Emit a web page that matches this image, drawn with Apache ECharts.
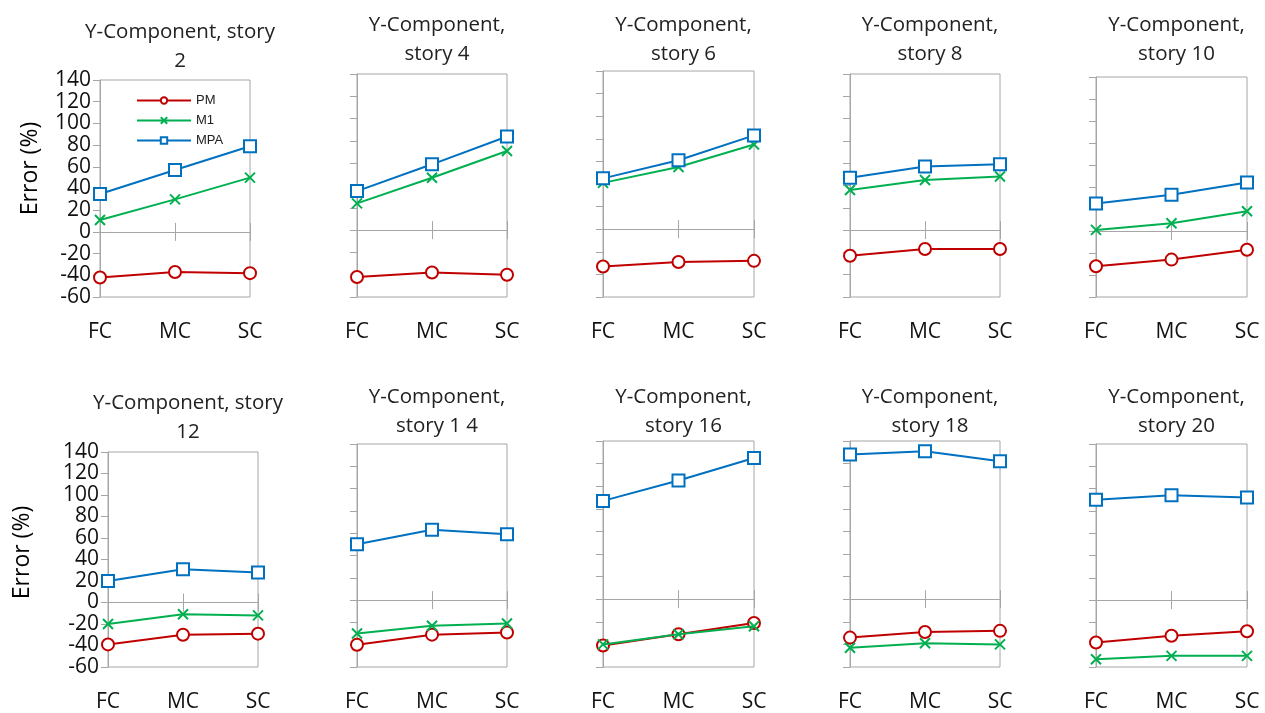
<!DOCTYPE html>
<html>
<head>
<meta charset="utf-8">
<script src="https://cdn.jsdelivr.net/npm/echarts@6/dist/echarts.min.js"></script>
<style>
html,body{margin:0;padding:0;background:#fff;}
#chart{width:1265px;height:713px;}
</style>
</head>
<body>
<div id="chart"></div>
<script>
// ---- data ----
var categories = ['FC', 'MC', 'SC'];
var panelTitles = [
  'Y-Component, story\n2', 'Y-Component,\nstory 4', 'Y-Component,\nstory 6', 'Y-Component,\nstory 8', 'Y-Component,\nstory 10',
  'Y-Component, story\n12', 'Y-Component,\nstory 1 4', 'Y-Component,\nstory 16', 'Y-Component,\nstory 18', 'Y-Component,\nstory 20'
];
var yTickMin = -60, yTickMax = 140, yTickStep = 20;
var seriesNames = ['PM', 'M1', 'MPA'];
var PM = [
  [-42, -37, -38], [-42, -38, -40], [-33, -29, -28], [-23, -17, -17], [-32, -26, -17],
  [-39, -30, -29], [-40, -31, -29], [-41, -31, -21], [-34, -29, -28], [-38, -32, -28]
];
var M1 = [
  [11, 30, 50], [24, 47, 71], [41, 55, 75], [36, 45, 48], [1, 7, 18],
  [-20, -11, -12], [-30, -23, -21], [-40, -31, -24], [-43, -39, -40], [-53, -50, -50]
];
var MPA = [
  [35, 57, 79], [35, 59, 84], [45, 61, 83], [47, 57, 59], [25, 33, 44],
  [20, 31, 28], [50, 63, 59], [87, 105, 125], [128, 131, 122], [90, 94, 92]
];

// ---- layout / style ----
var grids = [
  {left: 100, top: 80, width: 150, height: 217},
  {left: 357, top: 74, width: 150, height: 223},
  {left: 603, top: 71, width: 151, height: 226},
  {left: 850, top: 74, width: 150, height: 223},
  {left: 1096, top: 77, width: 151, height: 220},
  {left: 108, top: 452, width: 150, height: 217},
  {left: 357, top: 444, width: 150, height: 225},
  {left: 603, top: 441, width: 151, height: 228},
  {left: 850, top: 441, width: 150, height: 228},
  {left: 1096, top: 444, width: 151, height: 225}
];
var titleTops = [13, 6, 6, 6, 6, 384, 378, 378, 378, 378];
var FONT = '"Open Sans", Lato, sans-serif';
var AXIS_GRAY = '#a6a6a6';
var colors = {PM: '#C00000', M1: '#00B050', MPA: '#0070C0'};
var symbols = {PM: 'emptyCircle', M1: 'path://M0,0L10,10M10,0L0,10', MPA: 'emptyRect'};
var symSize = {PM: 12, M1: 10, MPA: 12};
var dataByName = {PM: PM, M1: M1, MPA: MPA};

var option = {
  backgroundColor: '#fff',
  animation: false,
  title: [], grid: [], xAxis: [], yAxis: [], series: [],
  legend: {
    data: seriesNames,
    orient: 'vertical',
    left: 131, top: 89,
    itemWidth: 54, itemHeight: 8, itemGap: 7,
    textStyle: {fontFamily: 'Arial, "Liberation Sans", sans-serif', fontSize: 13, color: '#222'},
    selectedMode: false
  }
};

for (var k = 0; k < grids.length; k++) {
  var g = grids[k];
  option.grid.push({left: g.left, top: g.top, width: g.width, height: g.height, show: true, borderColor: AXIS_GRAY, borderWidth: 1, containLabel: false});
  option.title.push({
    text: panelTitles[k],
    left: g.left + g.width / 2,
    top: titleTops[k],
    textAlign: 'center',
    textStyle: {fontFamily: FONT, fontSize: 20.5, fontWeight: 'normal', color: '#222', lineHeight: 29}
  });
  var showY = (k === 0 || k === 5);
  option.yAxis.push({
    type: 'value', gridIndex: k, min: yTickMin, max: yTickMax, interval: yTickStep,
    axisLine: {show: true, lineStyle: {color: AXIS_GRAY, width: 1}},
    axisTick: {show: true, length: 7, lineStyle: {color: AXIS_GRAY}},
    splitLine: {show: false},
    axisLabel: {show: showY, fontFamily: FONT, fontSize: 21, color: '#111', margin: 9},
    name: showY ? 'Error (%)' : '',
    nameLocation: 'middle', nameRotate: 90, nameGap: k === 0 ? 58 : 74,
    nameTextStyle: {fontFamily: FONT, fontSize: 23, color: '#000', padding: k === 0 ? [0, 0, 0, 40] : [0, 0, 0, 14]}
  });
  // label axis (bottom, labels only)
  option.xAxis.push({
    type: 'category', gridIndex: k, data: categories, boundaryGap: false, position: 'bottom',
    axisLine: {show: false, onZero: false}, axisTick: {show: false},
    axisLabel: {fontFamily: FONT, fontSize: 21, color: '#111', margin: 25},
    splitLine: {show: false}
  });
  // zero line with downward tick
  option.xAxis.push({
    type: 'category', gridIndex: k, data: categories, boundaryGap: false, position: 'bottom',
    axisLine: {show: true, onZero: true, onZeroAxisIndex: k, lineStyle: {color: AXIS_GRAY, width: 1}},
    axisTick: {show: true, length: 9, lineStyle: {color: AXIS_GRAY}},
    axisLabel: {show: false}, splitLine: {show: false}
  });
  // zero line with upward tick
  option.xAxis.push({
    type: 'category', gridIndex: k, data: categories, boundaryGap: false, position: 'top',
    axisLine: {show: true, onZero: true, onZeroAxisIndex: k, lineStyle: {color: AXIS_GRAY, width: 1}},
    axisTick: {show: true, length: 9, lineStyle: {color: AXIS_GRAY}},
    axisLabel: {show: false}, splitLine: {show: false}
  });
  seriesNames.forEach(function (nm) {
    option.series.push({
      name: nm, type: 'line', xAxisIndex: 3 * k, yAxisIndex: k,
      data: dataByName[nm][k],
      symbol: symbols[nm], symbolSize: symSize[nm],
      showSymbol: true,
      lineStyle: {color: colors[nm], width: 2},
      itemStyle: {color: colors[nm], borderColor: colors[nm], borderWidth: 2},
      z: nm === 'MPA' ? 4 : (nm === 'M1' ? 3 : 2)
    });
  });
}

var chart = echarts.init(document.getElementById('chart'), null, {renderer: 'canvas'});
chart.setOption(option);
</script>
</body>
</html>
